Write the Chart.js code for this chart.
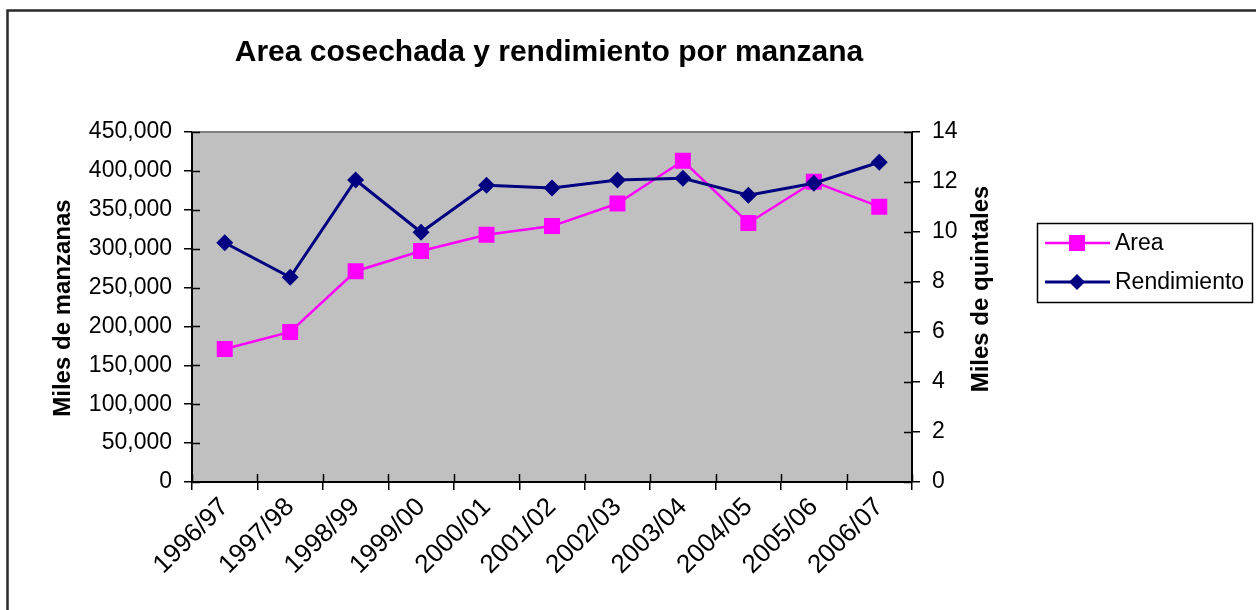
<!DOCTYPE html>
<html>
<head>
<meta charset="utf-8">
<script src="https://cdn.jsdelivr.net/npm/chart.js@4.4.1/dist/chart.umd.min.js"></script>
<style>
  html, body { margin: 0; padding: 0; background: #fff; }
  #wrap { width: 1256px; height: 610px; position: relative; }
</style>
</head>
<body>
<div id="wrap"><canvas id="c" width="1256" height="610"></canvas></div>
<script>
const chartTitle = 'Area cosechada y rendimiento por manzana';
const leftAxisTitle = 'Miles de manzanas';
const rightAxisTitle = 'Miles de quintales';
const categories = ['1996/97','1997/98','1998/99','1999/00','2000/01','2001/02','2002/03','2003/04','2004/05','2005/06','2006/07'];
const areaLabel = 'Area';
const areaValues = [171000, 193000, 271000, 297000, 318000, 329000, 358000, 413000, 333000, 386000, 354000];
const rendLabel = 'Rendimiento';
const rendValues = [9.57, 8.19, 12.08, 9.99, 11.87, 11.76, 12.08, 12.15, 11.47, 11.95, 12.79];
const leftTicksMax = 450000, leftTicksStep = 50000;
const rightTicksMax = 14, rightTicksStep = 2;

const FONT = '"Liberation Sans", Arial, sans-serif';
const PINK = '#FF00FF', NAVY = '#000080';

const decor = {
  id: 'decor',
  beforeDraw(chart) {
    const {ctx, chartArea: a} = chart;
    ctx.save();
    ctx.fillStyle = '#fff';
    ctx.fillRect(0, 0, chart.width, chart.height);
    ctx.fillStyle = '#C0C0C0';
    ctx.fillRect(a.left, a.top, a.right - a.left, a.bottom - a.top);
    ctx.strokeStyle = '#2a2a2a';
    ctx.lineWidth = 2.5;
    ctx.strokeRect(7.5, 10.5, 1300, 700);
    ctx.restore();
  },
  beforeDatasetsDraw(chart) {
    const {ctx, chartArea: a, scales} = chart;
    ctx.save();
    ctx.strokeStyle = '#808080';
    ctx.lineWidth = 2;
    ctx.beginPath();
    ctx.moveTo(a.left, a.top);
    ctx.lineTo(a.right, a.top);
    ctx.stroke();
    ctx.strokeStyle = '#000';
    ctx.lineWidth = 1.5;
    ctx.beginPath();
    scales.y.ticks.forEach((t, i) => {
      const y = Math.round(scales.y.getPixelForTick(i)) + 0.5;
      ctx.moveTo(a.left, y); ctx.lineTo(a.left + 8, y);
    });
    scales.y1.ticks.forEach((t, i) => {
      const y = Math.round(scales.y1.getPixelForTick(i)) + 0.5;
      ctx.moveTo(a.right - 8, y); ctx.lineTo(a.right, y);
    });
    const n = categories.length;
    const w = (a.right - a.left) / n;
    for (let i = 0; i <= n; i++) {
      const x = Math.round(a.left + i * w) + 0.5;
      ctx.moveTo(x, a.bottom - 8); ctx.lineTo(x, a.bottom);
    }
    ctx.stroke();
    ctx.restore();
  },
  afterDraw(chart) {
    const {ctx} = chart;
    ctx.save();
    ctx.fillStyle = '#000';
    ctx.font = 'bold 30px ' + FONT;
    ctx.textAlign = 'center';
    ctx.textBaseline = 'alphabetic';
    ctx.fillText(chartTitle, 549, 61);
    ctx.font = 'bold 24px ' + FONT;
    ctx.textBaseline = 'middle';
    ctx.save();
    ctx.translate(63, 308);
    ctx.rotate(-Math.PI / 2);
    ctx.fillText(leftAxisTitle, 0, 0);
    ctx.restore();
    ctx.save();
    ctx.translate(981, 289);
    ctx.rotate(-Math.PI / 2);
    ctx.fillText(rightAxisTitle, 0, 0);
    ctx.restore();
    ctx.strokeStyle = '#000';
    ctx.lineWidth = 1.5;
    ctx.strokeRect(1037.5, 223.5, 215, 79);
    const items = [
      {label: chart.data.datasets[1].label, color: PINK, lw: 2.5, y: 243, style: 'rect'},
      {label: chart.data.datasets[0].label, color: NAVY, lw: 3, y: 282, style: 'rectRot'}
    ];
    items.forEach(it => {
      ctx.strokeStyle = it.color;
      ctx.lineWidth = it.lw;
      ctx.beginPath();
      ctx.moveTo(1045, it.y); ctx.lineTo(1110, it.y);
      ctx.stroke();
      ctx.fillStyle = it.color;
      if (it.style === 'rect') {
        ctx.fillRect(1069, it.y - 8, 16, 16);
      } else {
        ctx.beginPath();
        ctx.moveTo(1077, it.y - 8); ctx.lineTo(1085, it.y);
        ctx.lineTo(1077, it.y + 8); ctx.lineTo(1069, it.y);
        ctx.closePath(); ctx.fill();
      }
      ctx.fillStyle = '#000';
      ctx.font = '23px ' + FONT;
      ctx.textAlign = 'left';
      ctx.textBaseline = 'middle';
      ctx.fillText(it.label, 1115, it.y + 1);
    });
    ctx.restore();
  }
};

new Chart(document.getElementById('c'), {
  type: 'line',
  data: {
    labels: categories,
    datasets: [
      {
        label: rendLabel,
        data: rendValues,
        yAxisID: 'y1',
        borderColor: NAVY,
        backgroundColor: NAVY,
        borderWidth: 3,
        pointStyle: 'rectRot',
        pointRadius: 8.5,
        pointBorderWidth: 0,
        pointBackgroundColor: NAVY,
        tension: 0,
        order: 1
      },
      {
        label: areaLabel,
        data: areaValues,
        yAxisID: 'y',
        borderColor: PINK,
        backgroundColor: PINK,
        borderWidth: 2.5,
        pointStyle: 'rect',
        pointRadius: 11.3,
        pointBorderWidth: 0,
        pointBackgroundColor: PINK,
        tension: 0,
        order: 2
      }
    ]
  },
  options: {
    responsive: false,
    animation: false,
    devicePixelRatio: 1,
    layout: { padding: { top: 132, left: 0, right: 0, bottom: 0 } },
    plugins: {
      legend: { display: false },
      title: { display: false },
      tooltip: { enabled: false }
    },
    scales: {
      x: {
        type: 'category',
        offset: true,
        grid: { display: true, offset: true, drawOnChartArea: false, drawTicks: true, tickLength: 8, color: '#000', lineWidth: 1.5 },
        border: { display: true, color: '#000', width: 2 },
        ticks: {
          autoSkip: false, minRotation: 45, maxRotation: 45, padding: 2,
          color: '#000', font: { family: FONT, size: 26 }
        },
        afterFit(s) { s.height = 128; }
      },
      y: {
        position: 'left',
        min: 0, max: leftTicksMax,
        grid: { display: true, drawOnChartArea: false, drawTicks: true, tickLength: 8, color: '#000', lineWidth: 1.5 },
        border: { display: true, color: '#000', width: 2 },
        ticks: {
          stepSize: leftTicksStep, padding: 12, color: '#000',
          font: { family: FONT, size: 23 },
          callback: v => v.toLocaleString('en-US')
        },
        afterFit(s) { s.width = 192; }
      },
      y1: {
        position: 'right',
        min: 0, max: rightTicksMax,
        grid: { display: true, drawOnChartArea: false, drawTicks: true, tickLength: 8, color: '#000', lineWidth: 1.5 },
        border: { display: true, color: '#000', width: 2 },
        ticks: {
          stepSize: rightTicksStep, padding: 12, color: '#000',
          font: { family: FONT, size: 23 }
        },
        afterFit(s) { s.width = 344; }
      }
    }
  },
  plugins: [decor]
});
</script>
</body>
</html>
